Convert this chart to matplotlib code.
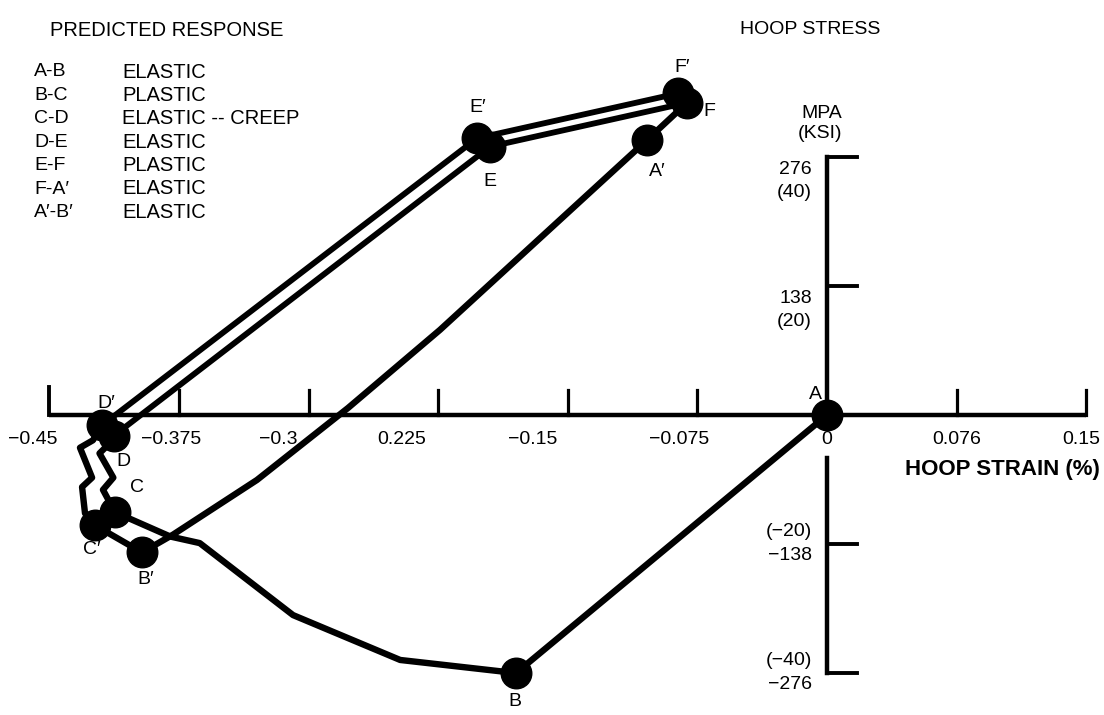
import matplotlib.pyplot as plt

plt.rcParams['font.family'] = ['Liberation Sans', 'DejaVu Sans']

W, H = 1104, 715

# strain (%) and hoop stress (MPa)
ab_x = [0.0, -0.180]
ab_y = [0, -276]

bc_x = [-0.180, -0.247, -0.309, -0.363, -0.380, -0.412]
bc_y = [-276, -262, -214, -137, -130, -104]

cd_x = [-0.412, -0.419, -0.413, -0.421, -0.415, -0.4126]
cd_y = [-104, -80, -67, -41, -30, -22]

cd2_x = [-0.4236, -0.4294, -0.4311, -0.4253, -0.4323, -0.4248, -0.4196]
cd2_y = [-118, -105, -77, -67, -35, -27, -11]

de_x = [-0.4126, -0.195]
de_y = [-22, 287]
de2_x = [-0.4196, -0.2025]
de2_y = [-11, 296]

ef_x = [-0.195, -0.081]
ef_y = [287, 334]
ef2_x = [-0.2025, -0.0862]
ef2_y = [296, 344]

fab_x = [-0.081, -0.1042, -0.224, -0.2772, -0.3299, -0.3785, -0.3964]
fab_y = [334, 294, 91, 7.5, -69.5, -128, -147]

bc2_x = [-0.3964, -0.4236]
bc2_y = [-147, -118]

point_names = ["A", "B", "C", "C'", "B'", "D", "D'", "E", "E'", "F", "F'", "A'"]
point_x = [0.0, -0.180, -0.412, -0.4236, -0.3964, -0.4126, -0.4196, -0.195, -0.2025, -0.081, -0.0862, -0.1042]
point_y = [0, -276, -104, -118, -147, -22, -11, 287, 296, 334, 344, 294]

# label positions in picture pixels
label_px = [(815, 395), (515, 702), (137, 487), (92, 549), (146, 579), (123, 461),
            (106, 403), (490, 181), (478, 107), (709, 112), (682, 67), (657, 171)]

x_ticks = [-0.45, -0.375, -0.3, -0.225, -0.15, -0.075, 0.0, 0.075, 0.15]
x_labels = ["\u22120.45", "\u22120.375", "\u22120.3", "0.225", "\u22120.15", "\u22120.075", "0", "0.076", "0.15"]
x_label_dx = [-17, -8, -30, -37, -35, -18, 0, 0, -5]

y_ticks = [276, 138, -138, -276]
y_labels = [("276", "(40)"), ("138", "(20)"), ("(\u221220)", "\u2212138"), ("(\u221240)", "\u2212276")]

legend_pairs = ["A-B", "B-C", "C-D", "D-E", "E-F", "F-A\u2032", "A\u2032-B\u2032"]
legend_kind = ["ELASTIC", "PLASTIC", "ELASTIC -- CREEP", "ELASTIC", "PLASTIC", "ELASTIC", "ELASTIC"]

# pixel mapping: x=0 at 827 px, 1728 px per unit strain; y=0 at 415 px, 0.935 px per MPa
X0, XS, Y0, YS = 827, 1728, 415, 0.935

fig = plt.figure(figsize=(W / 100, H / 100), dpi=100)
ax = fig.add_axes([0, 0, 1, 1])
ax.set_xlim(-X0 / XS, (W - X0) / XS)
ax.set_ylim((Y0 - H) / YS, Y0 / YS)
ax.axis('off')


def put(px, py, s, **kw):
    fig.text(px / W, 1 - py / H, s, **kw)


# axes drawn like the original figure
ax.plot([-0.45, 0.15], [0, 0], color='black', lw=3.2, solid_capstyle='butt')
ax.plot([-0.45, -0.45], [0, 30], color='black', lw=2.8)
for t in x_ticks[1:]:
    if t != 0:
        ax.plot([t, t], [0, 27], color='black', lw=2.3)
ax.plot([0, 0], [0, 276], color='black', lw=3.2)
ax.plot([0, 0], [-46, -276], color='black', lw=3.2)
for t in y_ticks:
    ax.plot([0, 0.0174], [t, t], color='black', lw=2.8)

line_kw = dict(color='black', lw=4.6, solid_joinstyle='round', solid_capstyle='round')
dbl_kw = dict(color='black', lw=4.2, solid_capstyle='round')
ax.plot(ab_x, ab_y, **line_kw)
ax.plot(bc_x, bc_y, **line_kw)
ax.plot(cd_x, cd_y, **line_kw)
ax.plot(cd2_x, cd2_y, **line_kw)
ax.plot(de_x, de_y, **dbl_kw)
ax.plot(de2_x, de2_y, **dbl_kw)
ax.plot(ef_x, ef_y, **dbl_kw)
ax.plot(ef2_x, ef2_y, **dbl_kw)
ax.plot(fab_x, fab_y, **line_kw)
ax.plot(bc2_x, bc2_y, **line_kw)
ax.plot(point_x, point_y, 'o', color='black', ms=22, zorder=5)

for name, (px, py) in zip(point_names, label_px):
    put(px, py, name.replace("'", "\u2032"), fontsize=14, ha='center', va='center')

for t, lab, dx in zip(x_ticks, x_labels, x_label_dx):
    px = X0 + t * XS + dx
    put(px, 440, lab, fontsize=14, ha='center', va='center')

for t, (top, bottom) in zip(y_ticks, y_labels):
    py = Y0 - t * YS
    if t > 0:
        put(812, py + 13, top, fontsize=14, ha='right', va='center')
        put(812, py + 36, bottom, fontsize=14, ha='right', va='center')
    else:
        put(812, py - 13, top, fontsize=14, ha='right', va='center')
        put(812, py + 11, bottom, fontsize=14, ha='right', va='center')

put(50, 30, "PREDICTED RESPONSE", fontsize=14.5, ha='left', va='center')
for i, (pair, kind) in enumerate(zip(legend_pairs, legend_kind)):
    py = 72 + i * 23.4
    put(34, py, pair, fontsize=14, ha='left', va='center')
    put(122, py, kind, fontsize=14.5, ha='left', va='center')

put(810, 30, "HOOP STRESS", fontsize=14, ha='center', va='center')
put(822, 113, "MPA", fontsize=14, ha='center', va='center')
put(820, 134, "(KSI)", fontsize=14, ha='center', va='center')
put(1100, 470, "HOOP STRAIN (%)", fontsize=16, fontweight='bold', ha='right', va='center')

fig.savefig("out.png", dpi=100)
